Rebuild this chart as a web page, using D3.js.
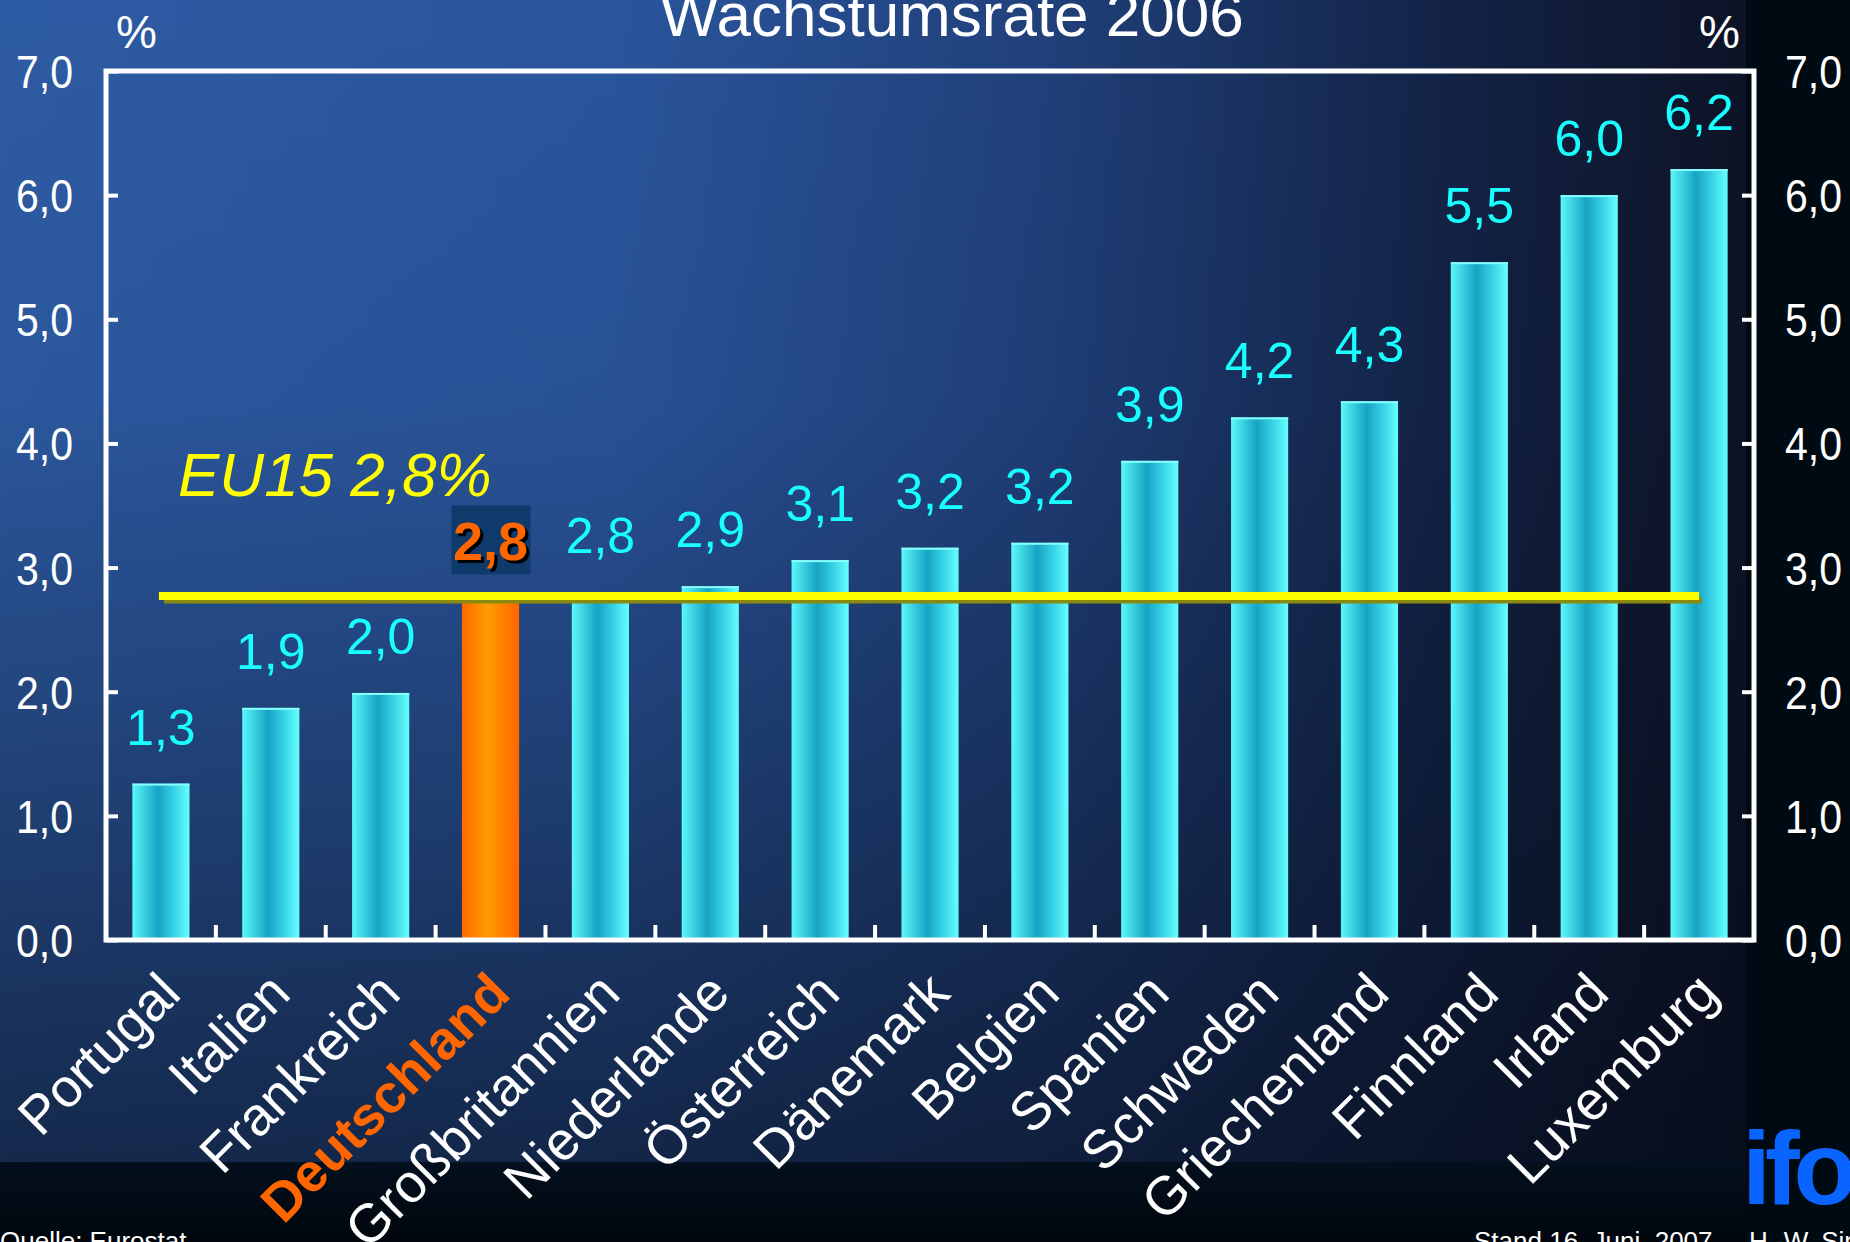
<!DOCTYPE html>
<html>
<head>
<meta charset="utf-8">
<script src="https://cdn.jsdelivr.net/npm/d3@7"></script>
<style>
  html, body { margin: 0; padding: 0; background: #000a12; overflow: hidden; }
  svg { display: block; font-family: "Liberation Sans", Arial, sans-serif; }
  text { white-space: pre; }
</style>
</head>
<body>
<div id="chart"></div>
<script>
const countries = ['Portugal', 'Italien', 'Frankreich', 'Deutschland', 'Großbritannien', 'Niederlande',
  'Österreich', 'Dänemark', 'Belgien', 'Spanien', 'Schweden', 'Griechenland', 'Finnland', 'Irland', 'Luxemburg'];
const growth = [1.26, 1.87, 1.99, 2.80, 2.80, 2.85, 3.06, 3.16, 3.20, 3.86, 4.21, 4.34, 5.46, 6.00, 6.21];
const valueLabels = ['1,3', '1,9', '2,0', '2,8', '2,8', '2,9', '3,1', '3,2', '3,2', '3,9', '4,2', '4,3', '5,5', '6,0', '6,2'];
const yTicks = [0, 1, 2, 3, 4, 5, 6, 7];
const eu15 = 2.8;
const highlight = 'Deutschland';

const W = 1850, H = 1242;
let margin = { top: 71, right: 96, bottom: 302, left: 106 },
  width = W - margin.left - margin.right,
  height = H - margin.top - margin.bottom;

const svg = d3.select('#chart').append('svg').attr('width', W).attr('height', H);
const defs = svg.append('defs');

// background gradients
const bgH = defs.append('linearGradient').attr('id', 'bgH').attr('x1', 0).attr('x2', 1).attr('y1', 0).attr('y2', 0);
[[0, '#2d5ba3'], [0.35, '#2a559c'], [0.6, '#20407a'], [0.82, '#132448'], [1, '#0d1326']]
  .forEach(s => bgH.append('stop').attr('offset', s[0]).attr('stop-color', s[1]));
const bgV = defs.append('linearGradient').attr('id', 'bgV').attr('x1', 0).attr('x2', 0).attr('y1', 0).attr('y2', 1);
[[0, 0], [0.35, 0.05], [0.65, 0.3], [1, 0.62]]
  .forEach(s => bgV.append('stop').attr('offset', s[0]).attr('stop-color', '#050a16').attr('stop-opacity', s[1]));
const bgB = defs.append('linearGradient').attr('id', 'bgB').attr('x1', 0).attr('x2', 0).attr('y1', 0).attr('y2', 1);
[[0, '#04101e'], [1, '#00060c']].forEach(s => bgB.append('stop').attr('offset', s[0]).attr('stop-color', s[1]));

// bar gradients
const cyan = defs.append('linearGradient').attr('id', 'cyan');
[[0, '#5cf8fb'], [0.2, '#3cd2e2'], [0.45, '#17a3c4'], [0.75, '#3ad6e8'], [1, '#66ffff']]
  .forEach(s => cyan.append('stop').attr('offset', s[0]).attr('stop-color', s[1]));
const orange = defs.append('linearGradient').attr('id', 'orange');
[[0, '#ff6a00'], [0.45, '#ff9c00'], [1, '#ff6400']]
  .forEach(s => orange.append('stop').attr('offset', s[0]).attr('stop-color', s[1]));

svg.append('rect').attr('width', W).attr('height', H).attr('fill', '#000a12');
svg.append('rect').attr('width', 1746).attr('height', 1162).attr('fill', 'url(#bgH)');
svg.append('rect').attr('width', 1746).attr('height', 1162).attr('fill', 'url(#bgV)');
svg.append('rect').attr('y', 1162).attr('width', 1746).attr('height', 80).attr('fill', 'url(#bgB)');

const g = svg.append('g').attr('transform', 'translate(' + margin.left + ',' + margin.top + ')');

const x = d3.scaleBand().range([0, width]).domain(countries).padding(0);
const y = d3.scaleLinear().range([height, 0]).domain([0, 7]);
const fmt = d => d3.format('.1f')(d).replace('.', ',');

// bars
g.selectAll('.bar')
  .data(countries)
  .enter()
  .append('rect')
  .attr('x', d => x(d) + x.bandwidth() * 0.24)
  .attr('y', (d, i) => y(growth[i]))
  .attr('width', x.bandwidth() * 0.52)
  .attr('height', (d, i) => height - y(growth[i]))
  .attr('fill', d => d === highlight ? 'url(#orange)' : 'url(#cyan)');

g.selectAll('.cap')
  .data(countries.filter(d => d !== highlight))
  .enter()
  .append('rect')
  .attr('x', d => x(d) + x.bandwidth() * 0.24)
  .attr('y', d => y(growth[countries.indexOf(d)]))
  .attr('width', x.bandwidth() * 0.52)
  .attr('height', 2)
  .attr('fill', '#8ff');

// value labels
countries.forEach((c, i) => {
  const cx = x(c) + x.bandwidth() / 2;
  if (c === highlight) {
    g.append('rect')
      .attr('x', cx - 39).attr('y', y(growth[i]) - 87)
      .attr('width', 79).attr('height', 69)
      .attr('fill', '#0f3a6c');
    g.append('text')
      .attr('x', cx + 3).attr('y', y(growth[i]) - 29)
      .attr('text-anchor', 'middle').attr('font-size', 54).attr('font-weight', 'bold')
      .attr('fill', '#000').text(valueLabels[i]);
    g.append('text')
      .attr('x', cx).attr('y', y(growth[i]) - 32)
      .attr('text-anchor', 'middle').attr('font-size', 54).attr('font-weight', 'bold')
      .attr('fill', '#ff6600').text(valueLabels[i]);
  } else {
    g.append('text')
      .attr('x', cx).attr('y', y(growth[i]) - 39)
      .attr('text-anchor', 'middle').attr('font-size', 50)
      .attr('fill', '#19ffff').text(valueLabels[i]);
  }
});

// EU15 line
const x0 = x(countries[0]) + x.bandwidth() / 2,
  x1 = x(countries[countries.length - 1]) + x.bandwidth() / 2;
g.append('line')
  .attr('x1', x0 + 3).attr('x2', x1 + 3)
  .attr('y1', y(eu15) + 8).attr('y2', y(eu15) + 8)
  .attr('stroke', '#8a8a10').attr('stroke-width', 6);
g.append('line')
  .attr('x1', x0 - 2).attr('x2', x1)
  .attr('y1', y(eu15) + 3.5).attr('y2', y(eu15) + 3.5)
  .attr('stroke', '#ffff00').attr('stroke-width', 8);
g.append('text')
  .attr('x', 72).attr('y', 425)
  .attr('font-size', 62).attr('font-style', 'italic')
  .attr('fill', '#ffff00').text('EU15 ' + fmt(eu15) + '%');

// frame
g.append('rect')
  .attr('width', width).attr('height', height)
  .attr('fill', 'none').attr('stroke', '#fff').attr('stroke-width', 5);

// bottom ticks between categories
g.selectAll('.xtick')
  .data(countries.slice(1))
  .enter()
  .append('line')
  .attr('x1', d => x(d)).attr('x2', d => x(d))
  .attr('y1', height).attr('y2', height - 15)
  .attr('stroke', '#fff').attr('stroke-width', 4);

// y axes on both sides
const yLeft = g.append('g')
  .call(d3.axisLeft(y).tickValues(yTicks).tickSize(-12).tickPadding(33).tickFormat(fmt));
const yRight = g.append('g')
  .attr('transform', 'translate(' + width + ',0)')
  .call(d3.axisRight(y).tickValues(yTicks).tickSize(-12).tickPadding(31).tickFormat(fmt));
[yLeft, yRight].forEach(a => {
  a.select('.domain').remove();
  a.selectAll('line').attr('stroke', '#fff').attr('stroke-width', 4);
  a.selectAll('text').attr('fill', '#fff').attr('font-size', 46)
    .attr('textLength', 57).attr('lengthAdjust', 'spacingAndGlyphs')
    .attr('font-family', '"Liberation Sans", Arial, sans-serif').attr('dy', '0.36em');
});

// category labels
g.selectAll('.cat')
  .data(countries)
  .enter()
  .append('text')
  .attr('transform', d => 'translate(' + (x(d) + x.bandwidth() / 2 + 22) + ',' + (height + 56) + ') rotate(-45)')
  .attr('text-anchor', 'end')
  .attr('font-size', 54)
  .attr('font-weight', d => d === highlight ? 'bold' : 'normal')
  .attr('fill', d => d === highlight ? '#ff6600' : '#fff')
  .text(d => d);

// titles and notes
svg.append('text').attr('x', 952).attr('y', 36).attr('text-anchor', 'middle')
  .attr('font-size', 62).attr('fill', '#fff').text('Wachstumsrate 2006');
svg.append('text').attr('x', 116).attr('y', 48).attr('font-size', 46).attr('fill', '#fff').text('%');
svg.append('text').attr('x', 1699).attr('y', 48).attr('font-size', 46).attr('fill', '#fff').text('%');
svg.append('text').attr('x', 0).attr('y', 1250).attr('font-size', 26).attr('fill', '#fff').text('Quelle: Eurostat');
svg.append('text').attr('x', 1474).attr('y', 1250).attr('font-size', 26).attr('fill', '#fff').text('Stand 16. Juni  2007');
svg.append('text').attr('x', 1749).attr('y', 1250).attr('font-size', 26).attr('fill', '#fff').text('H.-W. Sinn');
svg.append('text').attr('x', 1742).attr('y', 1204).attr('font-size', 104).attr('font-weight', 'bold')
  .attr('letter-spacing', -6).attr('fill', '#0a64ff').text('ifo');
</script>
</body>
</html>
